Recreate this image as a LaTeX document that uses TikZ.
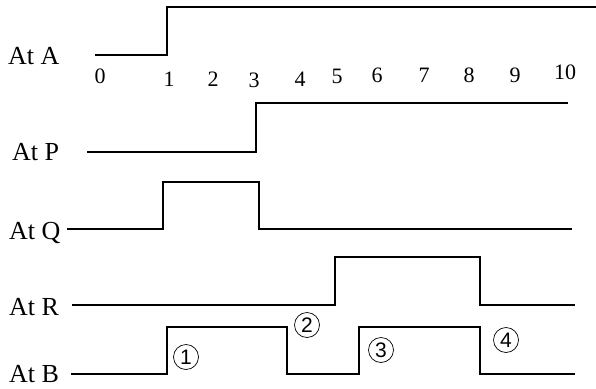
\documentclass[tikz,border=0pt]{standalone}
\usepackage{fontspec}
\setmainfont{Liberation Serif}
\newfontfamily\circfont{Liberation Sans}
\usetikzlibrary{positioning, calc}

\begin{document}
\begin{tikzpicture}[x=1pt, y=-1pt]
  % Styles
  \tikzstyle{signal} = [draw, line width=1.6pt, line join=miter]
  \tikzstyle{boldsignal} = [draw, line width=2.2pt, line join=miter]
  \tikzstyle{siglabel} = [anchor=base west, inner sep=0pt, font=\fontsize{26}{26}\selectfont]
  \tikzstyle{ticknum} = [anchor=base, inner sep=0pt, font=\fontsize{22}{22}\selectfont]
  \tikzstyle{stepmark} = [circle, draw, line width=0.7pt, inner sep=0pt, minimum size=25pt, font=\circfont\fontsize{21}{21}\selectfont]

  \useasboundingbox (0,0) rectangle (596,388);

  % Labels
  \node[siglabel] (labA) at (8,64) {At A};
  \node[siglabel] (labP) at (12,160) {At P};
  \node[siglabel] (labQ) at (9,239) {At Q};
  \node[siglabel] (labR) at (9,315) {At R};
  \node[siglabel] (labB) at (9,382) {At B};

  % Time axis
  \node[ticknum] (t0) at (100,83) {0};
  \node[ticknum] (t1) at (169,86) {1};
  \node[ticknum] (t2) at (213,86) {2};
  \node[ticknum] (t3) at (254,87) {3};
  \node[ticknum] (t4) at (300,86) {4};
  \node[ticknum] (t5) at (337,83) {5};
  \node[ticknum] (t6) at (377,82) {6};
  \node[ticknum] (t7) at (424,82) {7};
  \node[ticknum] (t8) at (469,82) {8};
  \node[ticknum] (t9) at (515,82) {9};
  \node[ticknum] (t10) at (565,79) {10};

  % Waveforms
  \draw[signal] (95,55) -- (167,55) -- (167,7) -- (596,7);
  \draw[signal] (87,152) -- (256,152) -- (256,103) -- (568,103);
  \draw[signal] (67,229) -- (163,229) -- (163,182) -- (259,182) -- (259,229) -- (572,229);
  \draw[boldsignal] (72,305) -- (335,305) -- (335,257) -- (480,257) -- (480,305) -- (575,305);
  \draw[signal] (71,374) -- (167,374) -- (167,327) -- (287,327) -- (287,374)
    -- (359,374) -- (359,327) -- (480,327) -- (480,374) -- (575,374);

  % Steps
  \node[stepmark] (s1) at (186,357) {1};
  \node[stepmark] (s2) at (307,325) {2};
  \node[stepmark] (s3) at (381,350) {3};
  \node[stepmark] (s4) at (506,340) {4};

\end{tikzpicture}
\end{document}
